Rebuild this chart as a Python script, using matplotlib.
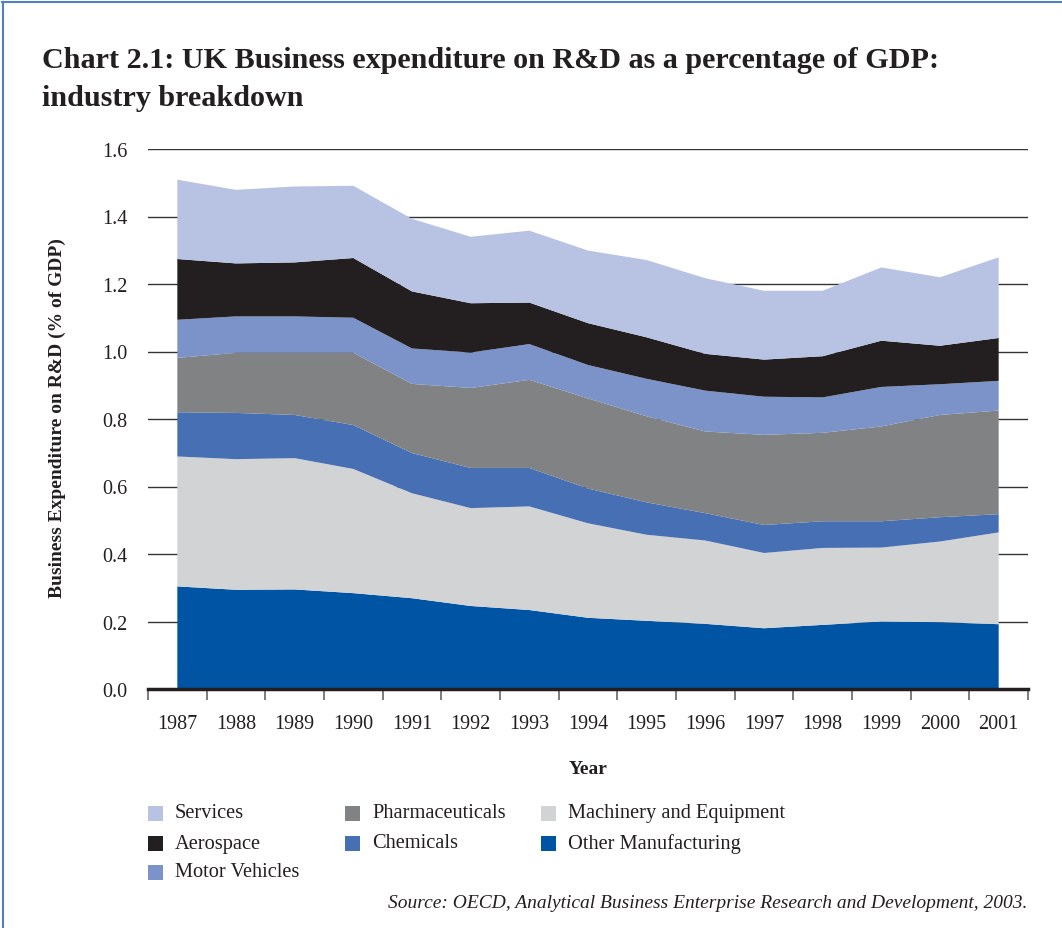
import matplotlib
matplotlib.use("Agg")
import matplotlib.pyplot as plt
import numpy as np
from matplotlib.patches import Rectangle
from matplotlib.lines import Line2D

years = ["1987", "1988", "1989", "1990", "1991", "1992", "1993", "1994",
         "1995", "1996", "1997", "1998", "1999", "2000", "2001"]

other_manufacturing = [0.304, 0.294, 0.295, 0.284, 0.269, 0.246, 0.234, 0.211,
                       0.202, 0.193, 0.180, 0.190, 0.200, 0.198, 0.192]
machinery = [0.385, 0.387, 0.389, 0.368, 0.311, 0.290, 0.307, 0.280,
             0.255, 0.247, 0.223, 0.228, 0.219, 0.239, 0.272]
chemicals = [0.131, 0.137, 0.128, 0.130, 0.119, 0.119, 0.114, 0.103,
             0.096, 0.081, 0.083, 0.079, 0.078, 0.072, 0.054]
pharmaceuticals = [0.161, 0.178, 0.184, 0.214, 0.205, 0.237, 0.261, 0.267,
                   0.255, 0.242, 0.267, 0.262, 0.281, 0.303, 0.307]
motor_vehicles = [0.113, 0.108, 0.108, 0.104, 0.105, 0.105, 0.106, 0.099,
                  0.111, 0.121, 0.113, 0.105, 0.117, 0.091, 0.088]
aerospace = [0.180, 0.157, 0.160, 0.177, 0.169, 0.146, 0.123, 0.124,
             0.123, 0.109, 0.110, 0.122, 0.137, 0.114, 0.127]
services = [0.235, 0.218, 0.225, 0.214, 0.215, 0.197, 0.213, 0.215,
            0.229, 0.224, 0.204, 0.194, 0.217, 0.203, 0.239]

series_names = ["Other Manufacturing", "Machinery and Equipment", "Chemicals",
                "Pharmaceuticals", "Motor Vehicles", "Aerospace", "Services"]
series_values = [other_manufacturing, machinery, chemicals, pharmaceuticals,
                 motor_vehicles, aerospace, services]
series_colors = ["#0054A4", "#D1D3D4", "#476FB3", "#808284", "#7B93C8",
                 "#231F20", "#B8C2E3"]

yticks = [0.0, 0.2, 0.4, 0.6, 0.8, 1.0, 1.2, 1.4, 1.6]

plt.rcParams['font.family'] = ['Liberation Serif', 'DejaVu Serif']

W, H = 1062, 929
fig = plt.figure(figsize=(W / 100, H / 100), dpi=100)
ax = fig.add_axes([148 / W, 1 - 690 / H, (1028 - 148) / W, (690 - 150) / H])

x = np.arange(len(years))
ax.stackplot(x, *series_values, colors=series_colors, linewidth=0, zorder=2)

ax.set_xlim(-0.5, len(years) - 0.5)
ax.set_ylim(0, 1.6)
ax.set_yticks(yticks)
ax.set_yticklabels([f"{v:.1f}" for v in yticks], fontsize=14.5, color="#231F20")
ax.set_xticks(x)
ax.set_xticklabels(years, fontsize=14.5, color="#231F20")
ax.set_xticks(np.arange(-0.5, len(years), 1.0), minor=True)
ax.tick_params(axis="x", which="major", length=0, pad=18)
ax.tick_params(axis="x", which="minor", length=8, width=1.2, color="#666666")
ax.tick_params(axis="y", length=0, pad=15)

ax.yaxis.grid(True, color="#333333", linewidth=1.0, zorder=0)
ax.set_axisbelow(True)
for s in ["left", "right", "top"]:
    ax.spines[s].set_visible(False)
ax.spines["bottom"].set_linewidth(2.5)
ax.spines["bottom"].set_color("#231F20")
ax.spines["bottom"].set_zorder(5)

fig.text(57 / W, 1 - 418 / H, "Business Expenditure on R&D (% of GDP)", fontsize=14,
         fontweight="bold", color="#231F20", rotation=90, ha="center", va="center")
fig.text(588 / W, 1 - 769 / H, "Year", fontsize=14, fontweight="bold",
         ha="center", va="center", color="#231F20")

fig.text(42 / W, 1 - 61 / H, "Chart 2.1: UK Business expenditure on R&D as a percentage of GDP:",
         fontsize=21.7, fontweight="bold", ha="left", va="center", color="#231F20")
fig.text(42 / W, 1 - 98 / H, "industry breakdown",
         fontsize=21.7, fontweight="bold", ha="left", va="center", color="#231F20")

# legend (manual placement, columns as in reference)
legend_order = ["Services", "Aerospace", "Motor Vehicles", "Pharmaceuticals",
                "Chemicals", "Machinery and Equipment", "Other Manufacturing"]
col_x = [148, 345, 541]
row_y = [814, 844, 873]
positions = [(0, 0), (0, 1), (0, 2), (1, 0), (1, 1), (2, 0), (2, 1)]
color_map = dict(zip(series_names, series_colors))
sq = 15
for name, (c, r) in zip(legend_order, positions):
    px, py = col_x[c], row_y[r]
    fig.patches.append(Rectangle((px / W, 1 - (py + sq / 2) / H), sq / W, sq / H,
                                 transform=fig.transFigure, facecolor=color_map[name],
                                 edgecolor="none"))
    fig.text((px + 27) / W, 1 - py / H, name, fontsize=14.7, ha="left", va="center",
             color="#231F20")

fig.text(1027 / W, 1 - 904 / H,
         "Source: OECD, Analytical Business Enterprise Research and Development, 2003.",
         fontsize=14, style="italic", ha="right", va="center", color="#231F20")

# frame lines (top and left)
fig.add_artist(Line2D([2 / W, 1], [1 - 3 / H, 1 - 3 / H], transform=fig.transFigure,
                      color="#4F81BD", linewidth=1.5))
fig.add_artist(Line2D([3 / W, 3 / W], [0, 1 - 3 / H], transform=fig.transFigure,
                      color="#4F81BD", linewidth=1.5))

fig.savefig("out.png", dpi=100)
